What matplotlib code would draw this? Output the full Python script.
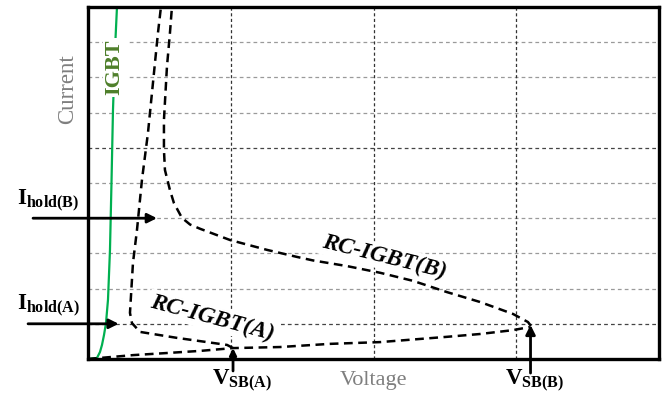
import matplotlib
matplotlib.use("Agg")
import matplotlib.pyplot as plt

plt.rcParams['font.family'] = ['Liberation Serif', 'DejaVu Serif']
plt.rcParams['mathtext.fontset'] = 'custom'
plt.rcParams['mathtext.rm'] = 'Liberation Serif'
plt.rcParams['mathtext.bf'] = 'Liberation Serif:bold'
plt.rcParams['mathtext.it'] = 'Liberation Serif:italic'

# ---- data (voltage, current in arbitrary grid units) ----
igbt_v = [0.0, 0.063, 0.084, 0.098, 0.112, 0.126, 0.140, 0.154, 0.165, 0.175, 0.189, 0.203]
igbt_i = [0.0, 0.03, 0.2, 0.4, 0.68, 1.02, 1.68, 3.10, 5.09, 7.07, 8.78, 10.0]

# shared forward (pre-snapback) branch from origin to V_SB(B)
fwd_v = [0.0, 0.315, 0.553, 0.785, 1.016, 1.345, 1.695, 2.046, 2.515, 2.746, 2.977, 3.096]
fwd_i = [0.0, 0.11, 0.17, 0.23, 0.31, 0.34, 0.43, 0.48, 0.63, 0.71, 0.82, 0.91]

# RC-IGBT(A) snapback branch
rca_v = [1.016, 0.974, 0.623, 0.364, 0.308, 0.294, 0.315, 0.343, 0.378, 0.420, 0.455, 0.490, 0.511]
rca_i = [0.31, 0.40, 0.60, 0.77, 1.02, 1.31, 2.73, 3.66, 5.09, 6.42, 7.84, 9.26, 10.0]

# RC-IGBT(B) snapback branch
rcb_v = [3.103, 3.082, 2.977, 2.746, 2.515, 2.277, 2.046, 1.814, 1.576, 1.464, 1.254, 0.995,
         0.785, 0.715, 0.658, 0.602, 0.574, 0.539, 0.532, 0.532, 0.553, 0.574, 0.588]
rcb_i = [0.94, 1.05, 1.28, 1.62, 1.90, 2.22, 2.45, 2.64, 2.80, 2.90, 3.10, 3.38,
         3.70, 3.82, 4.01, 4.43, 4.80, 5.37, 5.94, 6.79, 8.30, 9.26, 10.0]

i_hold_a = 1.0
i_hold_b = 4.0
v_sb_a = 1.016
v_sb_b = 3.10

fig = plt.figure(figsize=(6.67, 3.95), dpi=100)
ax = fig.add_axes([88/667, 36/395, 571/667, 352/395])
ax.set_xlim(0, 4)
ax.set_ylim(0, 10)
ax.set_xticks([])
ax.set_yticks([])
for s in ax.spines.values():
    s.set_linewidth(2.4)
    s.set_color('black')
    s.set_zorder(6)

# grid
hcolors = {1: '#444444', 6: '#444444'}
for y in range(1, 10):
    ax.axhline(y, color=hcolors.get(y, '#9a9a9a'), lw=0.9, ls=(0, (3, 2.5)), zorder=1)
for x in range(1, 4):
    ax.axvline(x, color='#333333', lw=0.9, ls=(0, (2.5, 2)), zorder=1)

# curves
ax.plot(igbt_v, igbt_i, color='#00B050', lw=1.6, zorder=2, solid_capstyle='butt')
dash = (0, (3.5, 2.2))
ax.plot(fwd_v, fwd_i, color='black', lw=1.8, ls=dash, zorder=4)
ax.plot(rca_v, rca_i, color='black', lw=1.8, ls=dash, zorder=4)
ax.plot(rcb_v, rcb_i, color='black', lw=1.8, ls=dash, zorder=4)

wbox = dict(facecolor='white', edgecolor='none', pad=1.5)

# labels on curves
ax.text(0.186, 8.28, 'IGBT', rotation=90, ha='center', va='center', fontsize=16,
        fontweight='bold', color='#4E7F2A', bbox=wbox, zorder=3)
ax.text(0.869, 1.17, 'RC-IGBT(A)', rotation=-15, rotation_mode='anchor', ha='center',
        va='center', fontsize=17, fontweight='bold', fontstyle='italic', bbox=wbox, zorder=3)
ax.text(2.074, 2.90, 'RC-IGBT(B)', rotation=-14, rotation_mode='anchor', ha='center',
        va='center', fontsize=17, fontweight='bold', fontstyle='italic', bbox=wbox, zorder=3)

# axis labels
ax.text(2.0, -0.74, 'Voltage', ha='center', va='baseline', fontsize=16, color='#7f7f7f')
ax.text(-0.144, 7.67, 'Current', rotation=90, ha='center', va='center', fontsize=16.5,
        color='#7f7f7f')

# hold current arrows
arrow = dict(arrowstyle='-|>', color='black', lw=2.0, mutation_scale=14, shrinkA=0, shrinkB=0)
ax.annotate('', xy=(0.483, i_hold_b), xytext=(-0.385, i_hold_b), arrowprops=arrow,
            annotation_clip=False, zorder=5)
ax.annotate('', xy=(0.215, i_hold_a), xytext=(-0.42, i_hold_a), arrowprops=arrow,
            annotation_clip=False, zorder=5)
ax.text(-0.497, 4.375, r'$\mathbf{I}_{\mathbf{hold(B)}}$', ha='left', va='baseline',
        fontsize=16.5)
ax.text(-0.497, 1.39, r'$\mathbf{I}_{\mathbf{hold(A)}}$', ha='left', va='baseline',
        fontsize=16.5)

# snapback voltage arrows
ax.annotate('', xy=(v_sb_a, 0.31), xytext=(v_sb_a, -0.34), arrowprops=dict(arrow, mutation_scale=10),
            annotation_clip=False, zorder=5)
ax.annotate('', xy=(v_sb_b, 0.97), xytext=(v_sb_b, -0.40), arrowprops=arrow,
            annotation_clip=False, zorder=5)
ax.text(0.869, -0.74, r'$\mathbf{V}_{\mathbf{SB(A)}}$', ha='left', va='baseline', fontsize=16.5)
ax.text(2.921, -0.74, r'$\mathbf{V}_{\mathbf{SB(B)}}$', ha='left', va='baseline', fontsize=16.5)

fig.savefig('out.png', dpi=100)
